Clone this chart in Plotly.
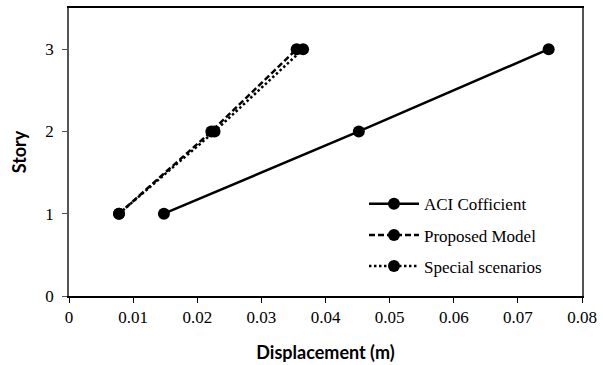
import plotly.graph_objects as go

# Story drift profiles
stories = [1, 2, 3]
aci_coefficient = [0.0148, 0.0452, 0.0748]
proposed_model = [0.0078, 0.0222, 0.0355]
special_scenarios = [0.0078, 0.0227, 0.0365]

series = [
    ("ACI Cofficient", aci_coefficient, "solid"),
    ("Proposed Model", proposed_model, "6px,3px"),
    ("Special scenarios", special_scenarios, "2.5px,2.5px"),
]

x_ticks = [0, 0.01, 0.02, 0.03, 0.04, 0.05, 0.06, 0.07, 0.08]
x_tick_text = ["0", "0.01", "0.02", "0.03", "0.04", "0.05", "0.06", "0.07", "0.08"]
y_ticks = [0, 1, 2, 3]

fig = go.Figure()
for i, (name, xs, dash) in enumerate(series):
    fig.add_trace(go.Scatter(
        x=xs, y=stories, name=name, mode="lines+markers",
        legendgroup=f"g{i}",
        line=dict(color="black", width=2.5, dash=dash),
        marker=dict(color="black", size=12, symbol="circle"),
    ))

serif = "Liberation Serif"
sans_bold = "Lato"

fig.update_layout(
    width=603, height=365,
    margin=dict(l=69, r=21, t=8, b=69),
    paper_bgcolor="white", plot_bgcolor="white",
    showlegend=True,
    legend=dict(
        x=0.575, y=0.381, xanchor="left", yanchor="top",
        font=dict(family=serif, size=17, color="black"),
        itemwidth=50, tracegroupgap=6, bgcolor="rgba(0,0,0,0)",
    ),
    xaxis=dict(
        range=[0, 0.08], tickvals=x_ticks, ticktext=x_tick_text,
        showgrid=False, zeroline=False, automargin=False,
        showline=True, linecolor="black", linewidth=1.5, mirror=True,
        ticks="outside", ticklen=5, tickcolor="black",
        tickfont=dict(family=serif, size=17, color="black"),
        title=dict(text="<b>Displacement (m)</b>",
                   font=dict(family=sans_bold, size=18, color="black"), standoff=20),
    ),
    yaxis=dict(
        range=[0, 3.5], tickvals=y_ticks,
        showgrid=False, zeroline=False, automargin=False,
        showline=True, linecolor="#555", linewidth=1.5, mirror=True,
        ticks="outside", ticklen=5, tickcolor="#555", ticklabelstandoff=5,
        tickfont=dict(family=serif, size=17, color="black"),
        title=dict(text="<b>Story</b>",
                   font=dict(family=sans_bold, size=18, color="black"), standoff=14),
    ),
)

fig.write_html("out.html")
